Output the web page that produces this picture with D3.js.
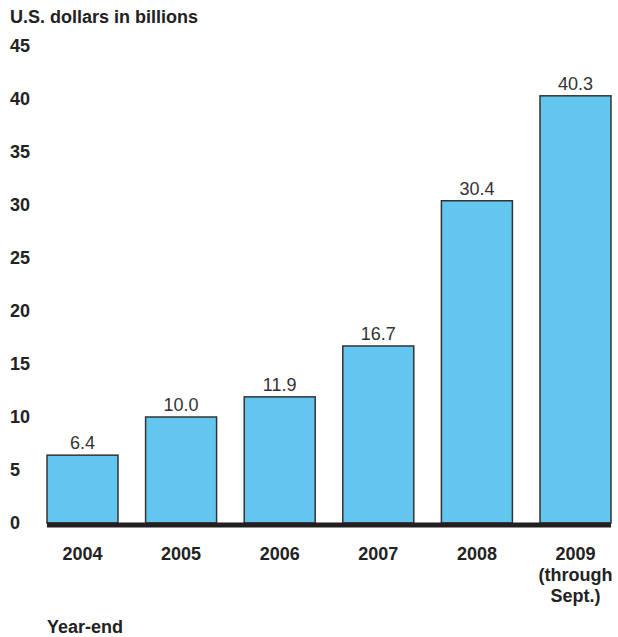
<!DOCTYPE html>
<html lang="en">
<head>
    <meta charset="UTF-8">
    <title>U.S. dollars in billions</title>
    <style>
        body{ margin:0; background:#fff; }
        text{ font-family: "Liberation Sans", Arial, Helvetica, sans-serif; }
    </style>
</head>
<body>
    <script src="https://cdn.jsdelivr.net/npm/d3@7"></script>
    <script>
        // donnees
        const annees = ['2004', '2005', '2006', '2007', '2008', '2009'];
        const valeurs = [6.4, 10.0, 11.9, 16.7, 30.4, 40.3];
        const etiquettesX = [['2004'], ['2005'], ['2006'], ['2007'], ['2008'], ['2009', '(through', 'Sept.)']];
        const ticksY = [0, 5, 10, 15, 20, 25, 30, 35, 40, 45];

        const largeur = 618, hauteur = 637;
        const taille = 18;

        let canevas = d3.select('body')
            .append('svg')
                .attr('width', largeur)
                .attr('height', hauteur)

        let x = d3.scaleBand()
            .domain(annees)
            .range([47, 611])
            .paddingInner(0.28)
            .paddingOuter(0)

        let y = d3.scaleLinear()
            .domain([0, 45])
            .range([523, 46])

        // titre
        canevas.append('text')
            .attr('x', 10)
            .attr('y', 23)
            .attr('font-size', taille)
            .attr('font-weight', 'bold')
            .attr('fill', '#222')
            .text('U.S. dollars in billions')

        // axe y (sans ligne)
        let axeY = canevas.append('g')
            .attr('transform', 'translate(10,0)')
            .call(d3.axisLeft(y).tickValues(ticksY).tickSize(0).tickFormat(d3.format('d')))
        axeY.select('.domain').remove()
        axeY.selectAll('text')
            .attr('x', 0)
            .attr('text-anchor', 'start')
            .attr('font-size', taille)
            .attr('font-weight', 'bold')
            .attr('font-family', '"Liberation Sans", Arial, sans-serif')
            .attr('fill', '#222')

        // barres
        canevas.append('g').selectAll('rect')
            .data(valeurs)
            .enter()
            .append('rect')
                .attr('x', (d, i) => x(annees[i]))
                .attr('y', d => y(d))
                .attr('width', x.bandwidth())
                .attr('height', d => y(0) - y(d))
                .attr('fill', '#63c6ee')
                .attr('stroke', '#333')
                .attr('stroke-width', 1.5)

        // valeurs au-dessus des barres
        canevas.append('g').selectAll('text')
            .data(valeurs)
            .enter()
            .append('text')
                .attr('x', (d, i) => x(annees[i]) + x.bandwidth() / 2)
                .attr('y', d => y(d) - 6)
                .attr('text-anchor', 'middle')
                .attr('font-size', taille)
                .attr('fill', '#333')
                .text(d => d3.format('.1f')(d))

        // ligne de base
        canevas.append('line')
            .attr('x1', x(annees[0]))
            .attr('x2', x(annees[annees.length - 1]) + x.bandwidth())
            .attr('y1', y(0) + 2)
            .attr('y2', y(0) + 2)
            .attr('stroke', '#231f20')
            .attr('stroke-width', 5)

        // etiquettes x
        canevas.append('g').selectAll('text')
            .data(etiquettesX)
            .enter()
            .append('text')
                .attr('x', (d, i) => x(annees[i]) + x.bandwidth() / 2)
                .attr('y', 560)
                .attr('text-anchor', 'middle')
                .attr('font-size', taille)
                .attr('font-weight', 'bold')
                .attr('fill', '#222')
                .each(function(d) {
                    let t = d3.select(this)
                    d.forEach((ligne, j) => {
                        t.append('tspan')
                            .attr('x', t.attr('x'))
                            .attr('dy', j === 0 ? 0 : 21)
                            .text(ligne)
                    })
                })

        // titre axe x
        canevas.append('text')
            .attr('x', 47)
            .attr('y', 633)
            .attr('font-size', taille)
            .attr('font-weight', 'bold')
            .attr('fill', '#222')
            .text('Year-end')
    </script>
</body>
</html>
